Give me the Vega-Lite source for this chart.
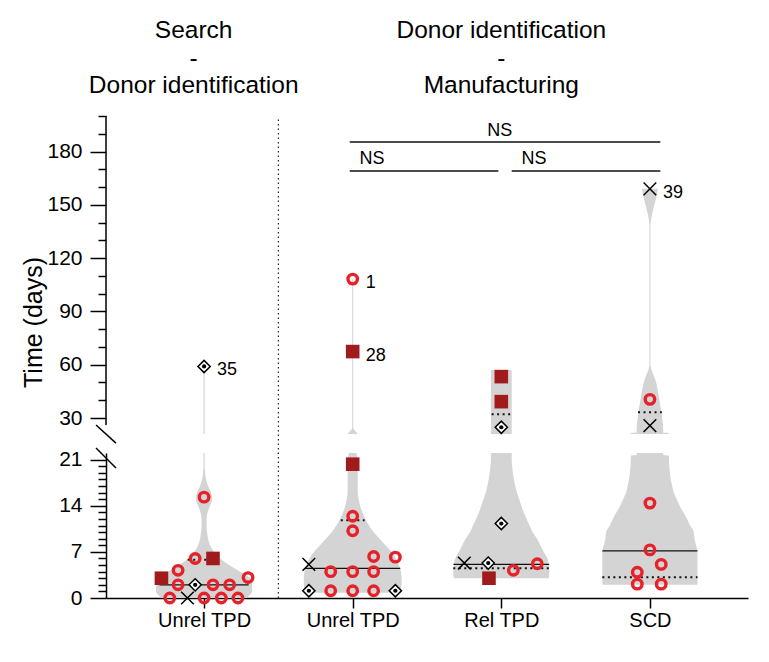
{
  "$schema": "https://vega.github.io/schema/vega-lite/v6.json",
  "background": "white",
  "padding": {"left": 21, "top": 18, "right": 19, "bottom": 30},
  "bounds": "flush",
  "spacing": 19,
  "config": {
    "view": {"stroke": null},
    "font": "Liberation Sans",
    "axis": {"domainColor": "black", "tickColor": "black", "labelColor": "black", "titleColor": "black", "domainWidth": 1.5, "tickWidth": 1.5, "grid": false, "labelFont": "Liberation Sans", "titleFont": "Liberation Sans", "titleFontWeight": "normal", "labelOverlap": false, "labelFlush": false},
    "axisY": {"labelFontSize": 21, "labelPadding": 8, "titleFontSize": 25},
    "axisX": {"labelFontSize": 20, "labelPadding": 2, "tickSize": 10}
  },
  "datasets": {
    "violin": [
      {"g":1,"v":0,"w":0.283},{"g":1,"v":0.5,"w":0.31},{"g":1,"v":1,"w":0.323},{"g":1,"v":2,"w":0.323},{"g":1,"v":3,"w":0.309},{"g":1,"v":4,"w":0.242},{"g":1,"v":5,"w":0.168},{"g":1,"v":6,"w":0.108},{"g":1,"v":7,"w":0.067},{"g":1,"v":8,"w":0.04},{"g":1,"v":9,"w":0.027},{"g":1,"v":10,"w":0.02},{"g":1,"v":11,"w":0.017},{"g":1,"v":12,"w":0.017},{"g":1,"v":13,"w":0.024},{"g":1,"v":14,"w":0.04},{"g":1,"v":15,"w":0.054},{"g":1,"v":16,"w":0.047},{"g":1,"v":17,"w":0.027},{"g":1,"v":18,"w":0.013},{"g":1,"v":19,"w":0.007},{"g":1,"v":20,"w":0.004},{"g":1,"v":59,"w":0.004},
      {"g":2,"v":0.8,"w":0.29},{"g":2,"v":1.5,"w":0.325},{"g":2,"v":2.5,"w":0.33},{"g":2,"v":4,"w":0.325},{"g":2,"v":5,"w":0.31},{"g":2,"v":6,"w":0.29},{"g":2,"v":7,"w":0.26},{"g":2,"v":8,"w":0.22},{"g":2,"v":9,"w":0.18},{"g":2,"v":10,"w":0.14},{"g":2,"v":11,"w":0.11},{"g":2,"v":12,"w":0.085},{"g":2,"v":13,"w":0.065},{"g":2,"v":14,"w":0.05},{"g":2,"v":15,"w":0.04},{"g":2,"v":16,"w":0.034},{"g":2,"v":20,"w":0.034},{"g":2,"v":21,"w":0.034},{"g":2,"v":22,"w":0.025},{"g":2,"v":23,"w":0.015},{"g":2,"v":24,"w":0.006},{"g":2,"v":24.5,"w":0.0034},{"g":2,"v":108,"w":0.0034},
      {"g":3,"v":3,"w":0.32},{"g":3,"v":4,"w":0.323},{"g":3,"v":5,"w":0.32},{"g":3,"v":6,"w":0.31},{"g":3,"v":7,"w":0.285},{"g":3,"v":8,"w":0.263},{"g":3,"v":9,"w":0.24},{"g":3,"v":10,"w":0.21},{"g":3,"v":11,"w":0.19},{"g":3,"v":12,"w":0.17},{"g":3,"v":13,"w":0.15},{"g":3,"v":14,"w":0.135},{"g":3,"v":15,"w":0.12},{"g":3,"v":16,"w":0.105},{"g":3,"v":17,"w":0.094},{"g":3,"v":18,"w":0.085},{"g":3,"v":19,"w":0.078},{"g":3,"v":20,"w":0.073},{"g":3,"v":21,"w":0.07},{"g":3,"v":56.5,"w":0.07},{"g":3,"v":57,"w":0.065},
      {"g":4,"v":2,"w":0.32},{"g":4,"v":7,"w":0.32},{"g":4,"v":8,"w":0.31},{"g":4,"v":9,"w":0.3},{"g":4,"v":10,"w":0.295},{"g":4,"v":11,"w":0.27},{"g":4,"v":12,"w":0.25},{"g":4,"v":13,"w":0.225},{"g":4,"v":14,"w":0.2},{"g":4,"v":15,"w":0.18},{"g":4,"v":16,"w":0.16},{"g":4,"v":17,"w":0.15},{"g":4,"v":18,"w":0.14},{"g":4,"v":19,"w":0.135},{"g":4,"v":20,"w":0.13},{"g":4,"v":21.6,"w":0.128},{"g":4,"v":21.7,"w":0.09},{"g":4,"v":26,"w":0.088},{"g":4,"v":30,"w":0.082},{"g":4,"v":34,"w":0.076},{"g":4,"v":38,"w":0.068},{"g":4,"v":42,"w":0.06},{"g":4,"v":46,"w":0.052},{"g":4,"v":50,"w":0.042},{"g":4,"v":53,"w":0.03},{"g":4,"v":56,"w":0.015},{"g":4,"v":59,"w":0.005},{"g":4,"v":60,"w":0.0034},{"g":4,"v":138,"w":0.0034},{"g":4,"v":142,"w":0.008},{"g":4,"v":146,"w":0.018},{"g":4,"v":150,"w":0.03},{"g":4,"v":155,"w":0.045},{"g":4,"v":159,"w":0.054}
    ],
    "stats": [
      {"g":1,"v":2.0,"w":0.3,"k":"median"},{"g":1,"v":5.8,"w":0.11,"k":"quartile"},
      {"g":2,"v":4.5,"w":0.32,"k":"median"},{"g":2,"v":11.8,"w":0.08,"k":"quartile"},
      {"g":3,"v":5.1,"w":0.322,"k":"median"},{"g":3,"v":4.5,"w":0.323,"k":"quartile"},{"g":3,"v":32.1,"w":0.065,"k":"quartile"},
      {"g":4,"v":7.15,"w":0.32,"k":"median"},{"g":4,"v":3.15,"w":0.32,"k":"quartile"},{"g":4,"v":33.2,"w":0.08,"k":"quartile"}
    ],
    "pts": [
      {"x":1.0,"v":59,"t":"diamond","lab":"35"},{"x":1.0,"v":15.3,"t":"circle"},{"x":0.94,"v":6.0,"t":"circle"},{"x":1.06,"v":6.0,"t":"square"},{"x":0.713,"v":3.0,"t":"square"},{"x":0.825,"v":4.2,"t":"circle"},{"x":0.825,"v":2.0,"t":"circle"},{"x":0.94,"v":2.0,"t":"diamond"},{"x":1.06,"v":2.0,"t":"circle"},{"x":1.172,"v":2.0,"t":"circle"},{"x":1.296,"v":3.1,"t":"circle"},{"x":0.769,"v":0,"t":"circle"},{"x":0.888,"v":0,"t":"x"},{"x":1.0,"v":0,"t":"circle"},{"x":1.116,"v":0,"t":"circle"},{"x":1.228,"v":0,"t":"circle"},
      {"x":2.0,"v":108.2,"t":"circle","lab":"1"},{"x":2.0,"v":67.4,"t":"square","lab":"28"},{"x":2.0,"v":20.3,"t":"square"},{"x":2.0,"v":12.4,"t":"circle"},{"x":2.0,"v":10.2,"t":"circle"},{"x":2.141,"v":6.3,"t":"circle"},{"x":2.287,"v":6.2,"t":"circle"},{"x":1.852,"v":4.0,"t":"circle"},{"x":2.0,"v":4.0,"t":"circle"},{"x":2.141,"v":4.0,"t":"circle"},{"x":1.705,"v":5.1,"t":"x"},{"x":1.852,"v":1.1,"t":"circle"},{"x":2.0,"v":1.1,"t":"circle"},{"x":2.141,"v":1.1,"t":"circle"},{"x":1.705,"v":1.1,"t":"diamond"},{"x":2.287,"v":1.1,"t":"diamond"},
      {"x":3.0,"v":53.3,"t":"square"},{"x":3.0,"v":39.2,"t":"square"},{"x":3.0,"v":24.8,"t":"diamond"},{"x":3.0,"v":11.3,"t":"diamond"},{"x":2.751,"v":5.3,"t":"x"},{"x":2.912,"v":5.3,"t":"diamond"},{"x":2.917,"v":3.0,"t":"square"},{"x":3.081,"v":4.2,"t":"circle"},{"x":3.242,"v":5.2,"t":"circle"},
      {"x":4.0,"v":159,"t":"x","lab":"39"},{"x":4.0,"v":40.5,"t":"circle"},{"x":4.0,"v":25.7,"t":"x"},{"x":4.0,"v":14.4,"t":"circle"},{"x":4.0,"v":7.3,"t":"circle"},{"x":4.076,"v":5.1,"t":"circle"},{"x":3.915,"v":3.9,"t":"circle"},{"x":3.915,"v":2.1,"t":"circle"},{"x":4.076,"v":2.1,"t":"circle"}
    ]
  },
  "vconcat": [
    {
      "width": 642,
      "height": 318,
      "layer": [
        {
          "data": {"name": "violin"},
          "transform": [{"calculate": "datum.g - datum.w", "as": "lo"}, {"calculate": "datum.g + datum.w", "as": "hi"}],
          "mark": {"type": "area", "orient": "horizontal", "color": "#d4d4d4", "clip": true, "interpolate": "monotone"},
          "encoding": {
            "y": {"field": "v", "type": "quantitative", "scale": {"domain": [21, 200], "nice": false, "zero": false},
              "axis": {"values": [30,40,50,60,70,80,90,100,110,120,130,140,150,160,170,180,190,200], "labelExpr": "datum.value % 30 === 0 ? datum.label : ''", "tickSize": {"condition": {"test": "datum.value % 30 === 0", "value": 16}, "value": 8}, "domain": false, "title": "Time (days)", "titleX": -73, "titleY": 206, "titleBaseline": "middle", "titleAlign": "center"}},
            "x": {"field": "lo", "type": "quantitative", "scale": {"domain": [0.34, 4.66], "nice": false, "zero": false}, "axis": null},
            "x2": {"field": "hi"},
            "detail": {"field": "g"}
          }
        },
        {
          "data": {"name": "stats"},
          "transform": [{"filter": "datum.k === 'median' && datum.v > 21"}, {"calculate": "datum.g - datum.w", "as": "lo"}, {"calculate": "datum.g + datum.w", "as": "hi"}],
          "mark": {"type": "rule", "color": "#111", "strokeWidth": 1.3},
          "encoding": {"y": {"field": "v", "type": "quantitative", "axis": {"values": [30,40,50,60,70,80,90,100,110,120,130,140,150,160,170,180,190,200], "labelExpr": "datum.value % 30 === 0 ? datum.label : ''", "tickSize": {"condition": {"test": "datum.value % 30 === 0", "value": 16}, "value": 8}, "domain": false, "title": "Time (days)", "titleX": -73, "titleY": 206, "titleBaseline": "middle", "titleAlign": "center"}}, "x": {"field": "lo", "type": "quantitative", "axis": null}, "x2": {"field": "hi"}}
        },
        {
          "data": {"name": "stats"},
          "transform": [{"filter": "datum.k === 'quartile' && datum.v > 21"}, {"calculate": "datum.g - datum.w", "as": "lo"}, {"calculate": "datum.g + datum.w", "as": "hi"}],
          "mark": {"type": "rule", "color": "#111", "strokeWidth": 2, "strokeDash": [2, 3.5]},
          "encoding": {"y": {"field": "v", "type": "quantitative", "axis": {"values": [30,40,50,60,70,80,90,100,110,120,130,140,150,160,170,180,190,200], "labelExpr": "datum.value % 30 === 0 ? datum.label : ''", "tickSize": {"condition": {"test": "datum.value % 30 === 0", "value": 16}, "value": 8}, "domain": false, "title": "Time (days)", "titleX": -73, "titleY": 206, "titleBaseline": "middle", "titleAlign": "center"}}, "x": {"field": "lo", "type": "quantitative", "axis": null}, "x2": {"field": "hi"}}
        },
        {
          "data": {"name": "pts"},
          "transform": [{"filter": "datum.t === 'circle' && datum.v > 22"}],
          "mark": {"type": "point", "shape": "circle", "filled": false, "stroke": "#e52229", "strokeWidth": 3.4, "size": 90, "opacity": 1},
          "encoding": {"y": {"field": "v", "type": "quantitative", "axis": {"values": [30,40,50,60,70,80,90,100,110,120,130,140,150,160,170,180,190,200], "labelExpr": "datum.value % 30 === 0 ? datum.label : ''", "tickSize": {"condition": {"test": "datum.value % 30 === 0", "value": 16}, "value": 8}, "domain": false, "title": "Time (days)", "titleX": -73, "titleY": 206, "titleBaseline": "middle", "titleAlign": "center"}}, "x": {"field": "x", "type": "quantitative", "axis": null}}
        },
        {
          "data": {"name": "pts"},
          "transform": [{"filter": "datum.t === 'square' && datum.v > 22"}],
          "mark": {"type": "point", "shape": "square", "filled": true, "color": "#a01c1c", "size": 185, "opacity": 1},
          "encoding": {"y": {"field": "v", "type": "quantitative", "axis": {"values": [30,40,50,60,70,80,90,100,110,120,130,140,150,160,170,180,190,200], "labelExpr": "datum.value % 30 === 0 ? datum.label : ''", "tickSize": {"condition": {"test": "datum.value % 30 === 0", "value": 16}, "value": 8}, "domain": false, "title": "Time (days)", "titleX": -73, "titleY": 206, "titleBaseline": "middle", "titleAlign": "center"}}, "x": {"field": "x", "type": "quantitative", "axis": null}}
        },
        {
          "data": {"name": "pts"},
          "transform": [{"filter": "datum.t === 'x' && datum.v > 22"}],
          "mark": {"type": "point", "shape": "M-1,-1L1,1M1,-1L-1,1", "filled": false, "stroke": "black", "strokeWidth": 1.5, "size": 160, "opacity": 1},
          "encoding": {"y": {"field": "v", "type": "quantitative", "axis": {"values": [30,40,50,60,70,80,90,100,110,120,130,140,150,160,170,180,190,200], "labelExpr": "datum.value % 30 === 0 ? datum.label : ''", "tickSize": {"condition": {"test": "datum.value % 30 === 0", "value": 16}, "value": 8}, "domain": false, "title": "Time (days)", "titleX": -73, "titleY": 206, "titleBaseline": "middle", "titleAlign": "center"}}, "x": {"field": "x", "type": "quantitative", "axis": null}}
        },
        {
          "data": {"name": "pts"},
          "transform": [{"filter": "datum.t === 'diamond' && datum.v > 22"}],
          "mark": {"type": "point", "shape": "diamond", "filled": true, "fill": "white", "stroke": "black", "strokeWidth": 1.5, "size": 150, "opacity": 1},
          "encoding": {"y": {"field": "v", "type": "quantitative", "axis": {"values": [30,40,50,60,70,80,90,100,110,120,130,140,150,160,170,180,190,200], "labelExpr": "datum.value % 30 === 0 ? datum.label : ''", "tickSize": {"condition": {"test": "datum.value % 30 === 0", "value": 16}, "value": 8}, "domain": false, "title": "Time (days)", "titleX": -73, "titleY": 206, "titleBaseline": "middle", "titleAlign": "center"}}, "x": {"field": "x", "type": "quantitative", "axis": null}}
        },
        {
          "data": {"name": "pts"},
          "transform": [{"filter": "datum.t === 'diamond' && datum.v > 22"}],
          "mark": {"type": "point", "shape": "circle", "filled": true, "color": "black", "size": 18, "opacity": 1},
          "encoding": {"y": {"field": "v", "type": "quantitative", "axis": {"values": [30,40,50,60,70,80,90,100,110,120,130,140,150,160,170,180,190,200], "labelExpr": "datum.value % 30 === 0 ? datum.label : ''", "tickSize": {"condition": {"test": "datum.value % 30 === 0", "value": 16}, "value": 8}, "domain": false, "title": "Time (days)", "titleX": -73, "titleY": 206, "titleBaseline": "middle", "titleAlign": "center"}}, "x": {"field": "x", "type": "quantitative", "axis": null}}
        },
        {
          "data": {"name": "pts"},
          "transform": [{"filter": "datum.lab != null"}],
          "mark": {"type": "text", "align": "left", "baseline": "middle", "dx": 13, "dy": 4, "fontSize": 18, "color": "black"},
          "encoding": {"y": {"field": "v", "type": "quantitative", "axis": {"values": [30,40,50,60,70,80,90,100,110,120,130,140,150,160,170,180,190,200], "labelExpr": "datum.value % 30 === 0 ? datum.label : ''", "tickSize": {"condition": {"test": "datum.value % 30 === 0", "value": 16}, "value": 8}, "domain": false, "title": "Time (days)", "titleX": -73, "titleY": 206, "titleBaseline": "middle", "titleAlign": "center"}}, "x": {"field": "x", "type": "quantitative", "axis": null}, "text": {"field": "lab"}}
        },
        {
          "data": {"values": [{}]},
          "layer": [
            {"mark": {"type": "text", "text": ["Search", "-", "Donor identification"], "lineHeight": 27.5, "fontSize": 24.5, "align": "center", "baseline": "middle", "color": "black"},
             "encoding": {"x": {"datum": 0.93, "type": "quantitative", "axis": null}, "y": {"datum": 247.8, "type": "quantitative", "axis": {"values": [30,40,50,60,70,80,90,100,110,120,130,140,150,160,170,180,190,200], "labelExpr": "datum.value % 30 === 0 ? datum.label : ''", "tickSize": {"condition": {"test": "datum.value % 30 === 0", "value": 16}, "value": 8}, "domain": false, "title": "Time (days)", "titleX": -73, "titleY": 206, "titleBaseline": "middle", "titleAlign": "center"}}}},
            {"mark": {"type": "text", "text": ["Donor identification", "-", "Manufacturing"], "lineHeight": 27.5, "fontSize": 24.5, "align": "center", "baseline": "middle", "color": "black"},
             "encoding": {"x": {"datum": 3.0, "type": "quantitative", "axis": null}, "y": {"datum": 247.8, "type": "quantitative", "axis": {"values": [30,40,50,60,70,80,90,100,110,120,130,140,150,160,170,180,190,200], "labelExpr": "datum.value % 30 === 0 ? datum.label : ''", "tickSize": {"condition": {"test": "datum.value % 30 === 0", "value": 16}, "value": 8}, "domain": false, "title": "Time (days)", "titleX": -73, "titleY": 206, "titleBaseline": "middle", "titleAlign": "center"}}}},
            {"mark": {"type": "rule", "color": "#111", "strokeWidth": 1.5},
             "encoding": {"x": {"datum": 1.98, "type": "quantitative", "axis": null}, "x2": {"datum": 4.07}, "y": {"datum": 185.3, "type": "quantitative", "axis": {"values": [30,40,50,60,70,80,90,100,110,120,130,140,150,160,170,180,190,200], "labelExpr": "datum.value % 30 === 0 ? datum.label : ''", "tickSize": {"condition": {"test": "datum.value % 30 === 0", "value": 16}, "value": 8}, "domain": false, "title": "Time (days)", "titleX": -73, "titleY": 206, "titleBaseline": "middle", "titleAlign": "center"}}}},
            {"mark": {"type": "rule", "color": "#111", "strokeWidth": 1.5},
             "encoding": {"x": {"datum": 1.98, "type": "quantitative", "axis": null}, "x2": {"datum": 2.98}, "y": {"datum": 169, "type": "quantitative", "axis": {"values": [30,40,50,60,70,80,90,100,110,120,130,140,150,160,170,180,190,200], "labelExpr": "datum.value % 30 === 0 ? datum.label : ''", "tickSize": {"condition": {"test": "datum.value % 30 === 0", "value": 16}, "value": 8}, "domain": false, "title": "Time (days)", "titleX": -73, "titleY": 206, "titleBaseline": "middle", "titleAlign": "center"}}}},
            {"mark": {"type": "rule", "color": "#111", "strokeWidth": 1.5},
             "encoding": {"x": {"datum": 3.07, "type": "quantitative", "axis": null}, "x2": {"datum": 4.07}, "y": {"datum": 169, "type": "quantitative", "axis": {"values": [30,40,50,60,70,80,90,100,110,120,130,140,150,160,170,180,190,200], "labelExpr": "datum.value % 30 === 0 ? datum.label : ''", "tickSize": {"condition": {"test": "datum.value % 30 === 0", "value": 16}, "value": 8}, "domain": false, "title": "Time (days)", "titleX": -73, "titleY": 206, "titleBaseline": "middle", "titleAlign": "center"}}}},
            {"mark": {"type": "text", "text": "NS", "fontSize": 18, "align": "center", "baseline": "middle", "color": "black"},
             "encoding": {"x": {"datum": 2.99, "type": "quantitative", "axis": null}, "y": {"datum": 191.5, "type": "quantitative", "axis": {"values": [30,40,50,60,70,80,90,100,110,120,130,140,150,160,170,180,190,200], "labelExpr": "datum.value % 30 === 0 ? datum.label : ''", "tickSize": {"condition": {"test": "datum.value % 30 === 0", "value": 16}, "value": 8}, "domain": false, "title": "Time (days)", "titleX": -73, "titleY": 206, "titleBaseline": "middle", "titleAlign": "center"}}}},
            {"mark": {"type": "text", "text": "NS", "fontSize": 18, "align": "center", "baseline": "middle", "color": "black"},
             "encoding": {"x": {"datum": 2.13, "type": "quantitative", "axis": null}, "y": {"datum": 175.7, "type": "quantitative", "axis": {"values": [30,40,50,60,70,80,90,100,110,120,130,140,150,160,170,180,190,200], "labelExpr": "datum.value % 30 === 0 ? datum.label : ''", "tickSize": {"condition": {"test": "datum.value % 30 === 0", "value": 16}, "value": 8}, "domain": false, "title": "Time (days)", "titleX": -73, "titleY": 206, "titleBaseline": "middle", "titleAlign": "center"}}}},
            {"mark": {"type": "text", "text": "NS", "fontSize": 18, "align": "center", "baseline": "middle", "color": "black"},
             "encoding": {"x": {"datum": 3.22, "type": "quantitative", "axis": null}, "y": {"datum": 175.7, "type": "quantitative", "axis": {"values": [30,40,50,60,70,80,90,100,110,120,130,140,150,160,170,180,190,200], "labelExpr": "datum.value % 30 === 0 ? datum.label : ''", "tickSize": {"condition": {"test": "datum.value % 30 === 0", "value": 16}, "value": 8}, "domain": false, "title": "Time (days)", "titleX": -73, "titleY": 206, "titleBaseline": "middle", "titleAlign": "center"}}}},
            {"mark": {"type": "rule", "color": "#222", "strokeWidth": 1.2, "strokeDash": [1.5, 3]},
             "encoding": {"x": {"datum": 1.5, "type": "quantitative", "axis": null}, "y": {"datum": 9.8, "type": "quantitative", "axis": {"values": [30,40,50,60,70,80,90,100,110,120,130,140,150,160,170,180,190,200], "labelExpr": "datum.value % 30 === 0 ? datum.label : ''", "tickSize": {"condition": {"test": "datum.value % 30 === 0", "value": 16}, "value": 8}, "domain": false, "title": "Time (days)", "titleX": -73, "titleY": 206, "titleBaseline": "middle", "titleAlign": "center"}}, "y2": {"datum": 199}}},
            {"mark": {"type": "rule", "color": "black", "strokeWidth": 1.5},
             "encoding": {"x": {"datum": 0.34, "type": "quantitative", "axis": null}, "y": {"datum": 26, "type": "quantitative", "axis": {"values": [30,40,50,60,70,80,90,100,110,120,130,140,150,160,170,180,190,200], "labelExpr": "datum.value % 30 === 0 ? datum.label : ''", "tickSize": {"condition": {"test": "datum.value % 30 === 0", "value": 16}, "value": 8}, "domain": false, "title": "Time (days)", "titleX": -73, "titleY": 206, "titleBaseline": "middle", "titleAlign": "center"}}, "y2": {"datum": 200}}}
          ]
        }
      ]
    },
    {
      "width": 642,
      "height": 145,
      "layer": [
        {
          "data": {"name": "violin"},
          "transform": [{"calculate": "datum.g - datum.w", "as": "lo"}, {"calculate": "datum.g + datum.w", "as": "hi"}],
          "mark": {"type": "area", "orient": "horizontal", "color": "#d4d4d4", "clip": true, "interpolate": "monotone"},
          "encoding": {
            "y": {"field": "v", "type": "quantitative", "scale": {"domain": [0, 22], "nice": false},
              "axis": {"values": [0,1,2,3,4,5,6,7,8,9,10,11,12,13,14,15,16,17,18,19,20,21], "labelExpr": "datum.value % 7 === 0 ? datum.label : ''", "tickSize": {"condition": {"test": "datum.value % 7 === 0", "value": 16}, "value": 8}, "domain": true, "title": null}},
            "x": {"field": "lo", "type": "quantitative", "scale": {"domain": [0.34, 4.66], "nice": false, "zero": false},
              "axis": {"values": [1, 2, 3, 4], "labelExpr": "['', 'Unrel TPD', 'Unrel TPD', 'Rel TPD', 'SCD'][datum.value]", "title": null, "domain": true}},
            "x2": {"field": "hi"},
            "detail": {"field": "g"}
          }
        },
        {
          "data": {"name": "stats"},
          "transform": [{"filter": "datum.k === 'median' && datum.v <= 22"}, {"calculate": "datum.g - datum.w", "as": "lo"}, {"calculate": "datum.g + datum.w", "as": "hi"}],
          "mark": {"type": "rule", "color": "#111", "strokeWidth": 1.3},
          "encoding": {"y": {"field": "v", "type": "quantitative", "axis": {"values": [0,1,2,3,4,5,6,7,8,9,10,11,12,13,14,15,16,17,18,19,20,21], "labelExpr": "datum.value % 7 === 0 ? datum.label : ''", "tickSize": {"condition": {"test": "datum.value % 7 === 0", "value": 16}, "value": 8}, "domain": true, "title": null}}, "x": {"field": "lo", "type": "quantitative", "axis": {"values": [1, 2, 3, 4], "labelExpr": "['', 'Unrel TPD', 'Unrel TPD', 'Rel TPD', 'SCD'][datum.value]", "title": null, "domain": true}}, "x2": {"field": "hi"}}
        },
        {
          "data": {"name": "stats"},
          "transform": [{"filter": "datum.k === 'quartile' && datum.v <= 22"}, {"calculate": "datum.g - datum.w", "as": "lo"}, {"calculate": "datum.g + datum.w", "as": "hi"}],
          "mark": {"type": "rule", "color": "#111", "strokeWidth": 2, "strokeDash": [2, 3.5]},
          "encoding": {"y": {"field": "v", "type": "quantitative", "axis": {"values": [0,1,2,3,4,5,6,7,8,9,10,11,12,13,14,15,16,17,18,19,20,21], "labelExpr": "datum.value % 7 === 0 ? datum.label : ''", "tickSize": {"condition": {"test": "datum.value % 7 === 0", "value": 16}, "value": 8}, "domain": true, "title": null}}, "x": {"field": "lo", "type": "quantitative", "axis": {"values": [1, 2, 3, 4], "labelExpr": "['', 'Unrel TPD', 'Unrel TPD', 'Rel TPD', 'SCD'][datum.value]", "title": null, "domain": true}}, "x2": {"field": "hi"}}
        },
        {
          "data": {"name": "pts"},
          "transform": [{"filter": "datum.t === 'circle' && datum.v <= 22"}],
          "mark": {"type": "point", "shape": "circle", "filled": false, "stroke": "#e52229", "strokeWidth": 3.4, "size": 90, "opacity": 1},
          "encoding": {"y": {"field": "v", "type": "quantitative", "axis": {"values": [0,1,2,3,4,5,6,7,8,9,10,11,12,13,14,15,16,17,18,19,20,21], "labelExpr": "datum.value % 7 === 0 ? datum.label : ''", "tickSize": {"condition": {"test": "datum.value % 7 === 0", "value": 16}, "value": 8}, "domain": true, "title": null}}, "x": {"field": "x", "type": "quantitative", "axis": {"values": [1, 2, 3, 4], "labelExpr": "['', 'Unrel TPD', 'Unrel TPD', 'Rel TPD', 'SCD'][datum.value]", "title": null, "domain": true}}}
        },
        {
          "data": {"name": "pts"},
          "transform": [{"filter": "datum.t === 'square' && datum.v <= 22"}],
          "mark": {"type": "point", "shape": "square", "filled": true, "color": "#a01c1c", "size": 185, "opacity": 1},
          "encoding": {"y": {"field": "v", "type": "quantitative", "axis": {"values": [0,1,2,3,4,5,6,7,8,9,10,11,12,13,14,15,16,17,18,19,20,21], "labelExpr": "datum.value % 7 === 0 ? datum.label : ''", "tickSize": {"condition": {"test": "datum.value % 7 === 0", "value": 16}, "value": 8}, "domain": true, "title": null}}, "x": {"field": "x", "type": "quantitative", "axis": {"values": [1, 2, 3, 4], "labelExpr": "['', 'Unrel TPD', 'Unrel TPD', 'Rel TPD', 'SCD'][datum.value]", "title": null, "domain": true}}}
        },
        {
          "data": {"name": "pts"},
          "transform": [{"filter": "datum.t === 'x' && datum.v <= 22"}],
          "mark": {"type": "point", "shape": "M-1,-1L1,1M1,-1L-1,1", "filled": false, "stroke": "black", "strokeWidth": 1.5, "size": 160, "opacity": 1},
          "encoding": {"y": {"field": "v", "type": "quantitative", "axis": {"values": [0,1,2,3,4,5,6,7,8,9,10,11,12,13,14,15,16,17,18,19,20,21], "labelExpr": "datum.value % 7 === 0 ? datum.label : ''", "tickSize": {"condition": {"test": "datum.value % 7 === 0", "value": 16}, "value": 8}, "domain": true, "title": null}}, "x": {"field": "x", "type": "quantitative", "axis": {"values": [1, 2, 3, 4], "labelExpr": "['', 'Unrel TPD', 'Unrel TPD', 'Rel TPD', 'SCD'][datum.value]", "title": null, "domain": true}}}
        },
        {
          "data": {"name": "pts"},
          "transform": [{"filter": "datum.t === 'diamond' && datum.v <= 22"}],
          "mark": {"type": "point", "shape": "diamond", "filled": true, "fill": "white", "stroke": "black", "strokeWidth": 1.5, "size": 150, "opacity": 1},
          "encoding": {"y": {"field": "v", "type": "quantitative", "axis": {"values": [0,1,2,3,4,5,6,7,8,9,10,11,12,13,14,15,16,17,18,19,20,21], "labelExpr": "datum.value % 7 === 0 ? datum.label : ''", "tickSize": {"condition": {"test": "datum.value % 7 === 0", "value": 16}, "value": 8}, "domain": true, "title": null}}, "x": {"field": "x", "type": "quantitative", "axis": {"values": [1, 2, 3, 4], "labelExpr": "['', 'Unrel TPD', 'Unrel TPD', 'Rel TPD', 'SCD'][datum.value]", "title": null, "domain": true}}}
        },
        {
          "data": {"name": "pts"},
          "transform": [{"filter": "datum.t === 'diamond' && datum.v <= 22"}],
          "mark": {"type": "point", "shape": "circle", "filled": true, "color": "black", "size": 18, "opacity": 1},
          "encoding": {"y": {"field": "v", "type": "quantitative", "axis": {"values": [0,1,2,3,4,5,6,7,8,9,10,11,12,13,14,15,16,17,18,19,20,21], "labelExpr": "datum.value % 7 === 0 ? datum.label : ''", "tickSize": {"condition": {"test": "datum.value % 7 === 0", "value": 16}, "value": 8}, "domain": true, "title": null}}, "x": {"field": "x", "type": "quantitative", "axis": {"values": [1, 2, 3, 4], "labelExpr": "['', 'Unrel TPD', 'Unrel TPD', 'Rel TPD', 'SCD'][datum.value]", "title": null, "domain": true}}}
        },
        {
          "data": {"values": [{}]},
          "layer": [
            {"mark": {"type": "rule", "color": "#222", "strokeWidth": 1.2, "strokeDash": [1.5, 3]},
             "encoding": {"x": {"datum": 1.5, "type": "quantitative", "axis": {"values": [1, 2, 3, 4], "labelExpr": "['', 'Unrel TPD', 'Unrel TPD', 'Rel TPD', 'SCD'][datum.value]", "title": null, "domain": true}}, "y": {"datum": 0, "type": "quantitative", "axis": {"values": [0,1,2,3,4,5,6,7,8,9,10,11,12,13,14,15,16,17,18,19,20,21], "labelExpr": "datum.value % 7 === 0 ? datum.label : ''", "tickSize": {"condition": {"test": "datum.value % 7 === 0", "value": 16}, "value": 8}, "domain": true, "title": null}}, "y2": {"datum": 22}}},
            {"mark": {"type": "rule", "color": "black", "strokeWidth": 1.5},
             "encoding": {"x": {"datum": 0.273, "type": "quantitative", "axis": {"values": [1, 2, 3, 4], "labelExpr": "['', 'Unrel TPD', 'Unrel TPD', 'Rel TPD', 'SCD'][datum.value]", "title": null, "domain": true}}, "x2": {"datum": 0.407}, "y": {"datum": 26.25, "type": "quantitative", "axis": {"values": [0,1,2,3,4,5,6,7,8,9,10,11,12,13,14,15,16,17,18,19,20,21], "labelExpr": "datum.value % 7 === 0 ? datum.label : ''", "tickSize": {"condition": {"test": "datum.value % 7 === 0", "value": 16}, "value": 8}, "domain": true, "title": null}}, "y2": {"datum": 23.5}}},
            {"mark": {"type": "rule", "color": "black", "strokeWidth": 1.5},
             "encoding": {"x": {"datum": 0.273, "type": "quantitative", "axis": {"values": [1, 2, 3, 4], "labelExpr": "['', 'Unrel TPD', 'Unrel TPD', 'Rel TPD', 'SCD'][datum.value]", "title": null, "domain": true}}, "x2": {"datum": 0.407}, "y": {"datum": 22.76, "type": "quantitative", "axis": {"values": [0,1,2,3,4,5,6,7,8,9,10,11,12,13,14,15,16,17,18,19,20,21], "labelExpr": "datum.value % 7 === 0 ? datum.label : ''", "tickSize": {"condition": {"test": "datum.value % 7 === 0", "value": 16}, "value": 8}, "domain": true, "title": null}}, "y2": {"datum": 19.73}}}
          ]
        }
      ]
    }
  ]
}
